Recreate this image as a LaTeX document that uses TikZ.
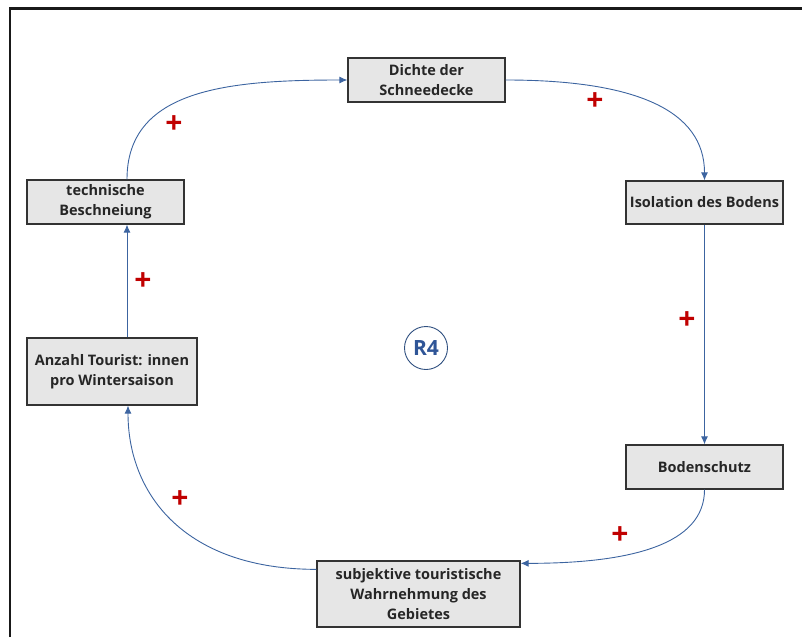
\documentclass[tikz,border=0pt]{standalone}
\usepackage{fontspec}
\setmainfont{Open Sans}
\usetikzlibrary{arrows.meta,calc}
\definecolor{boxfill}{HTML}{E6E6E6}
\definecolor{boxline}{HTML}{333333}
\definecolor{arrblue}{HTML}{3C64A0}
\definecolor{plusred}{HTML}{C00000}
\definecolor{rblue}{HTML}{2F5597}
\begin{document}
\begin{tikzpicture}[x=1pt,y=-1pt,
  box/.style={draw=boxline,line width=1.3pt,fill=boxfill,inner sep=0pt,align=center,
    font=\fontsize{14.5}{20}\selectfont\bfseries,text=black!85},
  arr/.style={draw=arrblue,line width=0.9pt,-{Latex[length=8pt,width=7pt]}},
  plus/.style={text=plusred,font=\fontsize{30}{30}\selectfont\bfseries,inner sep=0pt}]
\useasboundingbox (0,0) rectangle (802,637);
\draw[line width=2.2pt,black!90] (10,637) -- (10,8.5) -- (802,8.5);

\node[box,minimum width=157pt,minimum height=44pt] (dichte) at (426.5,80) {Dichte der\\Schneedecke};
\node[box,minimum width=157pt,minimum height=44pt] (tech) at (105.5,202) {technische\\Beschneiung};
\node[box,minimum width=157pt,minimum height=43pt] (iso) at (704.5,202.5) {Isolation des Bodens};
\node[box,minimum width=157pt,minimum height=44pt] (boden) at (704.5,467) {Bodenschutz};
\node[box,minimum width=203pt,minimum height=66pt] (subj) at (418.5,594) {subjektive touristische\\Wahrnehmung des\\Gebietes};
\node[box,minimum width=170pt,minimum height=67pt] (anz) at (112,371.5) {Anzahl Tourist: innen\\pro Wintersaison};

\node[circle,draw=arrblue!80!black,line width=0.9pt,minimum size=43pt,inner sep=0pt,
  text=rblue,font=\fontsize{21}{21}\selectfont\bfseries] (r4) at (426,348) {R4};

\draw[arr] ([xshift=21.5pt]tech.north) .. controls +(0,-90) and +(-120,0) .. (dichte.west);
\draw[arr] (dichte.east) .. controls +(130,0) and +(0,-70) .. (iso.north);
\draw[arr] (iso.south) -- (boden.north);
\draw[arr] (boden.south) .. controls +(0,55) and +(110,0) .. ([yshift=-3pt]subj.north east);
\draw[arr] ([yshift=-9pt]subj.north west) .. controls +(-130,0) and +(0,90) .. ([xshift=16pt]anz.south);
\draw[arr] ([xshift=15pt]anz.north) -- ([xshift=21.5pt]tech.south);

\node[plus] (p1) at (174,125) {+};
\node[plus] (p2) at (595,102) {+};
\node[plus] (p3) at (143,282) {+};
\node[plus] (p4) at (687,321) {+};
\node[plus] (p5) at (620,536) {+};
\node[plus] (p6) at (180,500) {+};
\end{tikzpicture}
\end{document}
